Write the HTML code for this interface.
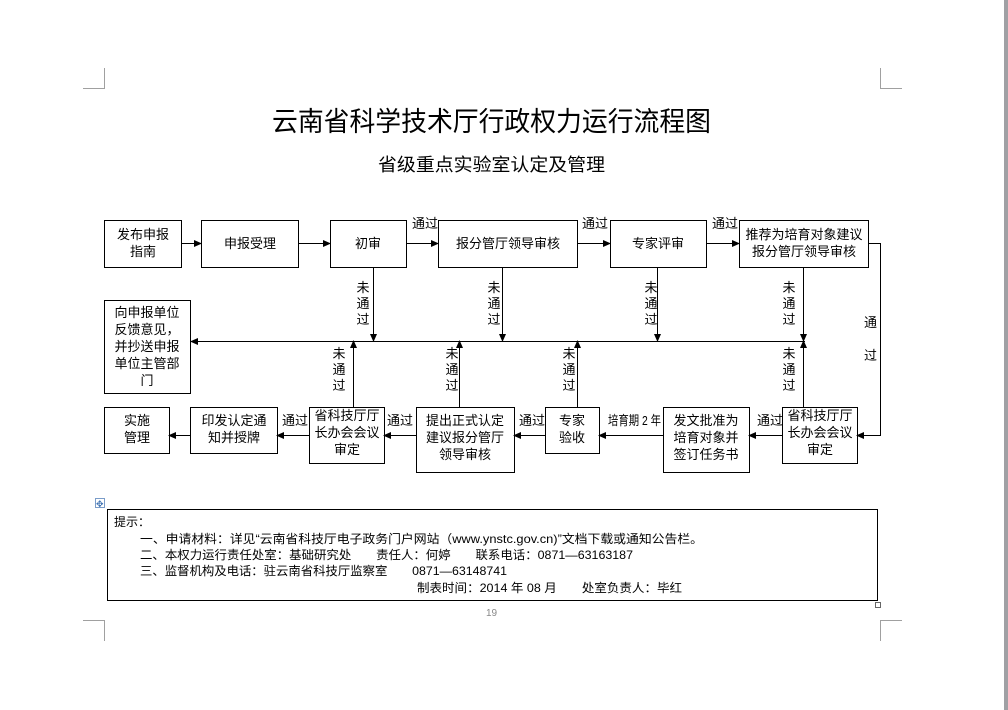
<!DOCTYPE html>
<html><head><meta charset="utf-8"><style>
html,body{margin:0;padding:0;background:#fff;}
svg{display:block;}
text{font-family:"Liberation Sans","Noto Sans CJK SC","WenQuanYi Zen Hei",sans-serif;fill:#000;}
.s{font-size:13px;}
.n{font-size:12px;}
</style></head><body>
<svg width="1008" height="710" viewBox="0 0 1008 710" xmlns="http://www.w3.org/2000/svg">
<defs><marker id="a" markerWidth="8" markerHeight="8" refX="7" refY="4" orient="auto" markerUnits="userSpaceOnUse"><path d="M0,0.5 L8,4 L0,7.5 z" fill="#000"/></marker></defs>
<rect x="1004" y="0" width="4" height="710" fill="#a0a0a4"/>
<g stroke="#a0a0a0" stroke-width="1" fill="none">
<path d="M104.5 68V88.5H83"/><path d="M880.5 68V88.5H902"/>
<path d="M83 620.5H104.5V641"/><path d="M902 620.5H880.5V641"/>
</g>
<text x="272" y="131" font-size="27" textLength="439" lengthAdjust="spacingAndGlyphs">云南省科学技术厅行政权力运行流程图</text>
<text x="378" y="171" font-size="18" textLength="227" lengthAdjust="spacingAndGlyphs">省级重点实验室认定及管理</text>
<g stroke="#000" stroke-width="1" fill="none">
<rect x="104.5" y="220.5" width="77" height="47"/>
<rect x="201.5" y="220.5" width="97" height="47"/>
<rect x="330.5" y="220.5" width="76" height="47"/>
<rect x="438.5" y="220.5" width="139" height="47"/>
<rect x="610.5" y="220.5" width="96" height="47"/>
<rect x="739.5" y="220.5" width="129" height="47"/>
<rect x="104.5" y="300.5" width="86" height="93"/>
<rect x="104.5" y="407.5" width="65" height="46"/>
<rect x="190.5" y="407.5" width="87" height="46"/>
<rect x="309.5" y="407.5" width="75" height="56"/>
<rect x="416.5" y="407.5" width="98" height="65"/>
<rect x="545.5" y="407.5" width="54" height="46"/>
<rect x="663.5" y="407.5" width="86" height="65"/>
<rect x="782.5" y="407.5" width="75" height="56"/>
</g>
<g stroke="#000" stroke-width="1" fill="none" marker-end="url(#a)">
<path d="M181 243.5H201"/><path d="M298 243.5H330"/><path d="M406 243.5H438"/>
<path d="M577 243.5H610"/><path d="M706 243.5H739"/>
<path d="M805 341.5H191"/>
<path d="M373.5 267V341"/><path d="M502.5 267V341"/><path d="M657.5 267V341"/><path d="M803.5 267V341"/>
<path d="M353.5 407V341"/><path d="M459.5 407V341"/><path d="M577.5 407V341"/><path d="M803.5 407V341"/>
<path d="M868 243.5H880.5V435.5H857"/>
<path d="M782 435.5H749"/><path d="M663 435.5H599"/><path d="M545 435.5H514"/>
<path d="M416 435.5H384"/><path d="M309 435.5H277"/><path d="M190 435.5H169"/>
</g>
<g class="s" text-anchor="middle">
<text x="143" y="239">发布申报</text><text x="143" y="256">指南</text>
<text x="250" y="248">申报受理</text>
<text x="368" y="248">初审</text>
<text x="508" y="248">报分管厅领导审核</text>
<text x="658" y="248">专家评审</text>
<text x="804" y="239">推荐为培育对象建议</text><text x="804" y="256">报分管厅领导审核</text>
<text x="147" y="317">向申报单位</text><text x="147" y="334">反馈意见，</text><text x="147" y="351">并抄送申报</text><text x="147" y="368">单位主管部</text><text x="147" y="385">门</text>
<text x="137" y="425">实施</text><text x="137" y="442">管理</text>
<text x="234" y="425">印发认定通</text><text x="234" y="442">知并授牌</text>
<text x="347" y="420">省科技厅厅</text><text x="347" y="437">长办会会议</text><text x="347" y="454">审定</text>
<text x="465" y="425">提出正式认定</text><text x="465" y="442">建议报分管厅</text><text x="465" y="459">领导审核</text>
<text x="572" y="425">专家</text><text x="572" y="442">验收</text>
<text x="706" y="425">发文批准为</text><text x="706" y="442">培育对象并</text><text x="706" y="459">签订任务书</text>
<text x="820" y="420">省科技厅厅</text><text x="820" y="437">长办会会议</text><text x="820" y="454">审定</text>
</g>
<g class="s">
<text x="412" y="228">通过</text><text x="582" y="228">通过</text><text x="712" y="228">通过</text>
<text x="282" y="425">通过</text><text x="387" y="425">通过</text><text x="519" y="425">通过</text>
<text x="608" y="425" textLength="53" lengthAdjust="spacingAndGlyphs">培育期 2 年</text><text x="757" y="425">通过</text>
<text x="864" y="327">通</text><text x="864" y="360">过</text>
</g>
<g class="s" text-anchor="middle">
<text x="363" y="292">未</text><text x="363" y="308">通</text><text x="363" y="324">过</text>
<text x="494" y="292">未</text><text x="494" y="308">通</text><text x="494" y="324">过</text>
<text x="651" y="292">未</text><text x="651" y="308">通</text><text x="651" y="324">过</text>
<text x="789" y="292">未</text><text x="789" y="308">通</text><text x="789" y="324">过</text>
<text x="339" y="358">未</text><text x="339" y="374">通</text><text x="339" y="390">过</text>
<text x="452" y="358">未</text><text x="452" y="374">通</text><text x="452" y="390">过</text>
<text x="569" y="358">未</text><text x="569" y="374">通</text><text x="569" y="390">过</text>
<text x="789" y="358">未</text><text x="789" y="374">通</text><text x="789" y="390">过</text>
</g>
<rect x="95.5" y="498.5" width="9" height="9" fill="#fff" stroke="#7a9cc9"/>
<text x="96" y="507" font-size="9" style="fill:#3a6fb0">✥</text>
<rect x="107.5" y="509.5" width="770" height="91" fill="none" stroke="#000"/>
<rect x="875.5" y="602.5" width="5" height="5" fill="#fff" stroke="#666"/>
<g class="n">
<text x="114" y="526">提示：</text>
<text x="140" y="543" textLength="563" lengthAdjust="spacingAndGlyphs">一、申请材料：详见“云南省科技厅电子政务门户网站（www.ynstc.gov.cn)”文档下载或通知公告栏。</text>
<text x="140" y="559" textLength="493" lengthAdjust="spacingAndGlyphs">二、本权力运行责任处室：基础研究处　　责任人：何婷　　联系电话：0871—63163187</text>
<text x="140" y="575" textLength="367" lengthAdjust="spacingAndGlyphs">三、监督机构及电话：驻云南省科技厅监察室　　0871—63148741</text>
<text x="417" y="592" textLength="265" lengthAdjust="spacingAndGlyphs">制表时间：2014 年 08 月　　处室负责人：毕红</text>
</g>
<text x="486" y="616" font-size="10" style="fill:#888">19</text>
</svg>
</body></html>
